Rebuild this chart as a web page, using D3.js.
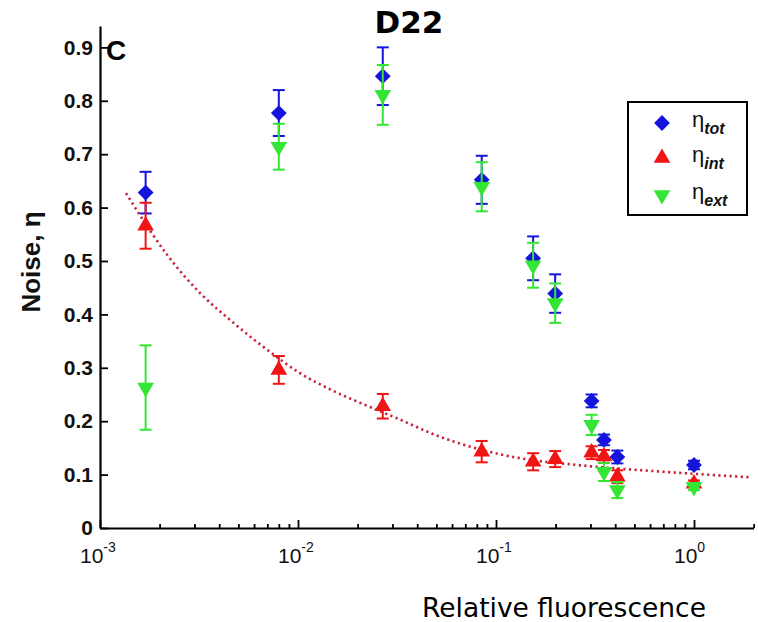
<!DOCTYPE html>
<html>
<head>
<meta charset="utf-8">
<script src="https://cdn.jsdelivr.net/npm/d3@7"></script>
<style>
  body { margin: 0; background: #fff; }
  svg { display: block; }
</style>
</head>
<body>
<svg id="chart" width="758" height="622"></svg>
<script>
// values
const fluor  = [0.0017, 0.0080, 0.0268, 0.0847, 0.154, 0.199, 0.304, 0.351, 0.410, 1.0];
const etaTot = [0.628, 0.777, 0.846, 0.652, 0.505, 0.439, 0.238, 0.165, 0.133, 0.118];
const errTot = [0.039, 0.043, 0.054, 0.045, 0.041, 0.036, 0.012, 0.010, 0.012, 0.008];
const etaInt = [0.566, 0.296, 0.228, 0.143, 0.124, 0.129, 0.141, 0.134, 0.096, 0.083];
const errInt = [0.043, 0.026, 0.023, 0.020, 0.016, 0.015, 0.012, 0.012, 0.012, 0.006];
const etaExt = [0.263, 0.714, 0.811, 0.639, 0.492, 0.421, 0.193, 0.105, 0.071, 0.077];
const errExt = [0.079, 0.043, 0.056, 0.046, 0.042, 0.037, 0.019, 0.017, 0.015, 0.006];

// dotted fit through eta_int
const fitX = [0.001353, 0.001789, 0.002178, 0.003201, 0.004697, 0.006972, 0.01023, 0.01502,
              0.0223, 0.03273, 0.04804, 0.07131, 0.1047, 0.1536, 0.2281, 0.3348, 0.5989, 1.048, 1.918];
const fitY = [0.627, 0.557, 0.512, 0.440, 0.385, 0.334, 0.290, 0.257, 0.229,
              0.203, 0.176, 0.154, 0.138, 0.127, 0.120, 0.114, 0.107, 0.101, 0.095];

const yTicks = [0, 0.1, 0.2, 0.3, 0.4, 0.5, 0.6, 0.7, 0.8, 0.9];
const xDecades = [-3, -2, -1, 0];

const blue = '#1414dc', red = '#f01414', green = '#33e633';

const svg = d3.select('#chart');

const x = d3.scaleLog().domain([1e-3, 2]).range([100, 753.6]);
const y = d3.scaleLinear().domain([0, 0.94]).range([528, 26]);

// fit line
const line = d3.line().x(d => x(d[0])).y(d => y(d[1])).curve(d3.curveMonotoneX);
svg.append('path')
  .datum(fitX.map((v, i) => [v, fitY[i]]))
  .attr('d', line)
  .attr('fill', 'none')
  .attr('stroke', '#c8203a')
  .attr('stroke-width', 2.6)
  .attr('stroke-dasharray', '2.2,3.4');

// axes
const yAxis = d3.axisLeft(y)
  .tickValues(yTicks)
  .tickSizeInner(-8)
  .tickSizeOuter(0)
  .tickPadding(7)
  .tickFormat(d => d === 0 ? '0' : d3.format('.1f')(d));

const gy = svg.append('g').attr('transform', 'translate(100,0)').call(yAxis);
gy.selectAll('text')
  .attr('font-family', 'Liberation Sans, Arial, sans-serif')
  .attr('font-weight', 'bold')
  .attr('font-size', 21)
  .attr('fill', '#111');

const majors = xDecades.map(k => Math.pow(10, k));
let minors = [];
xDecades.forEach(k => { for (let m = 2; m <= 9; m++) minors.push(m * Math.pow(10, k)); });
minors = minors.filter(v => v <= 2);

const gxMinor = svg.append('g').attr('transform', 'translate(0,528)')
  .call(d3.axisBottom(x).tickValues(minors).tickSizeInner(-4).tickSizeOuter(0).tickFormat(''));
gxMinor.select('.domain').remove();

const gx = svg.append('g').attr('transform', 'translate(0,528)')
  .call(d3.axisBottom(x).tickValues(majors).tickSizeInner(-8).tickSizeOuter(0).tickFormat(''));

svg.selectAll('.domain').attr('stroke', '#000').attr('stroke-width', 2.2);
svg.selectAll('.tick line').attr('stroke', '#000').attr('stroke-width', 1.8);

// x tick labels 10^k
xDecades.forEach(k => {
  const t = svg.append('text')
    .attr('x', x(Math.pow(10, k)) - 20)
    .attr('y', 563)
    .attr('font-family', 'Liberation Sans, Arial, sans-serif')
    .attr('fill', '#111');
  t.append('tspan').attr('font-size', 21).text('10');
  t.append('tspan').attr('font-size', 14).attr('dy', -11).text(k === 0 ? '0' : String(k));
});

// error bars + markers
const cap = 6;
function errorBars(vals, errs, color) {
  const g = svg.append('g').attr('stroke', color).attr('stroke-width', 2);
  fluor.forEach((f, i) => {
    const cx = x(f), y0 = y(vals[i] - errs[i]), y1 = y(vals[i] + errs[i]);
    g.append('line').attr('x1', cx).attr('x2', cx).attr('y1', y0).attr('y2', y1);
    g.append('line').attr('x1', cx - cap).attr('x2', cx + cap).attr('y1', y0).attr('y2', y0);
    g.append('line').attr('x1', cx - cap).attr('x2', cx + cap).attr('y1', y1).attr('y2', y1);
  });
}
function markers(vals, sym, rot, color) {
  svg.append('g').selectAll('path')
    .data(fluor)
    .join('path')
    .attr('d', sym)
    .attr('transform', (f, i) => `translate(${x(f)},${y(vals[i])}) rotate(${rot})`)
    .attr('fill', color);
}
const diamond = d3.symbol(d3.symbolSquare, 125)();
const tri = d3.symbol(d3.symbolTriangle, 120)();

errorBars(etaTot, errTot, blue);
markers(etaTot, diamond, 45, blue);
errorBars(etaInt, errInt, red);
markers(etaInt, tri, 0, red);
errorBars(etaExt, errExt, green);
markers(etaExt, tri, 180, green);

// legend
const lg = svg.append('g');
lg.append('rect').attr('x', 628).attr('y', 102).attr('width', 119).attr('height', 113)
  .attr('fill', '#fff').attr('stroke', '#000').attr('stroke-width', 2);
const legendItems = [
  { sub: 'tot', sym: diamond, rot: 45, color: blue, cy: 123 },
  { sub: 'int', sym: tri, rot: 0, color: red, cy: 158 },
  { sub: 'ext', sym: tri, rot: 180, color: green, cy: 195 }
];
legendItems.forEach(d => {
  lg.append('path').attr('d', d.sym)
    .attr('transform', `translate(662,${d.cy}) rotate(${d.rot})`)
    .attr('fill', d.color);
  const t = lg.append('text').attr('x', 692).attr('y', d.cy + 4)
    .attr('font-family', 'Liberation Sans, Arial, sans-serif').attr('fill', '#111');
  t.append('tspan').attr('font-size', 22).text('η');
  t.append('tspan').attr('font-size', 16).attr('font-style', 'italic')
    .attr('font-weight', 'bold').attr('dy', 7).text(d.sub);
});

// labels
svg.append('text').attr('x', 409).attr('y', 33).attr('text-anchor', 'middle')
  .attr('font-family', 'DejaVu Sans, Verdana, sans-serif').attr('font-weight', 'bold')
  .attr('font-size', 31).text('D22');

svg.append('text').attr('x', 106).attr('y', 60)
  .attr('font-family', 'Liberation Sans, Arial, sans-serif').attr('font-weight', 'bold')
  .attr('font-size', 28).text('C');

svg.append('text')
  .attr('transform', 'translate(40,262) rotate(-90)')
  .attr('text-anchor', 'middle')
  .attr('font-family', 'Liberation Sans, Arial, sans-serif').attr('font-weight', 'bold')
  .attr('font-size', 26).attr('fill', '#111').text('Noise, η');

svg.append('text').attr('x', 564).attr('y', 617).attr('text-anchor', 'middle')
  .attr('font-family', 'DejaVu Sans, Verdana, sans-serif')
  .attr('font-size', 26.5).text('Relative fluorescence');
</script>
</body>
</html>
